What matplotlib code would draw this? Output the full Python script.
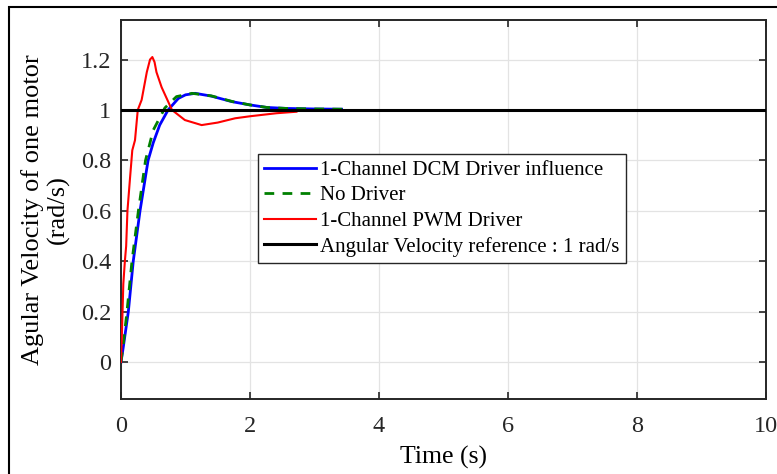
import matplotlib
matplotlib.use('Agg')
import matplotlib.pyplot as plt
from matplotlib.patches import Rectangle

plt.rcParams['font.family'] = ['Liberation Serif', 'DejaVu Serif']

# Канал DCM (синяя)
t_dcm = [0, 0.036, 0.114, 0.19, 0.295, 0.42, 0.5, 0.6, 0.73, 0.89, 1.0, 1.15,
         1.4, 1.72, 2.0, 2.26, 2.57, 3.0, 3.42]
v_dcm = [0, 0.06, 0.2, 0.4, 0.6, 0.8, 0.87, 0.94, 1.0, 1.046, 1.06, 1.066,
         1.055, 1.033, 1.02, 1.01, 1.006, 1.004, 1.003]

# Без драйвера (зелёная пунктирная)
t_nodrv = [0, 0.03, 0.093, 0.17, 0.27, 0.38, 0.5, 0.68, 0.86, 1.1, 1.4, 1.72,
           2.0, 2.26, 2.57, 3.0, 3.45]
v_nodrv = [0, 0.06, 0.2, 0.4, 0.6, 0.8, 0.92, 1.008, 1.053, 1.066, 1.056, 1.034,
           1.02, 1.01, 1.006, 1.004, 1.003]

# Канал PWM (красная)
t_pwm = [0, 0.015, 0.036, 0.06, 0.08, 0.10, 0.14, 0.175, 0.217, 0.26, 0.32, 0.40,
         0.45, 0.486, 0.52, 0.55, 0.63, 0.79, 0.99, 1.25, 1.5, 1.77, 2.0, 2.41, 2.72]
v_pwm = [0.0, 0.12, 0.31, 0.40, 0.46, 0.60, 0.73, 0.84, 0.88, 1.0, 1.04, 1.15,
         1.20, 1.21, 1.19, 1.15, 1.09, 1.0, 0.96, 0.94, 0.95, 0.967, 0.975, 0.987, 0.993]

# Опорная скорость
t_ref = [0, 10]
v_ref = [1, 1]

labels = ['1-Channel DCM Driver influence', 'No Driver',
          '1-Channel PWM Driver', 'Angular Velocity reference : 1 rad/s']

fig = plt.figure(figsize=(7.77, 4.74), dpi=100)
ax = fig.add_axes([121 / 777, 75 / 474, 645 / 777, 379 / 474])

ax.plot(t_dcm, v_dcm, color='#0000ff', lw=2, label=labels[0], zorder=2)
ax.plot(t_nodrv, v_nodrv, color='#008000', lw=2, ls=(0, (3.5, 3)), label=labels[1], zorder=3)
ax.plot(t_pwm, v_pwm, color='#ff0000', lw=1.5, label=labels[2], zorder=4)
ax.plot(t_ref, v_ref, color='black', lw=2.2, label=labels[3], zorder=5)

ax.set_xlim(0, 10)
ax.set_ylim(-0.147, 1.357)
ax.set_xticks([0, 2, 4, 6, 8, 10])
ax.set_yticks([0, 0.2, 0.4, 0.6, 0.8, 1, 1.2])
ax.set_yticklabels(['0', '0.2', '0.4', '0.6', '0.8', '1', '1.2'])
ax.grid(True, color='#e3e3e3', lw=0.9)
ax.set_axisbelow(True)
ax.tick_params(direction='in', top=True, right=True, length=5, width=1.2,
               labelsize=17.5, colors='#262626')
ax.tick_params(axis='x', pad=12)
ax.tick_params(axis='y', pad=7)
for s in ax.spines.values():
    s.set_linewidth(1.4)
    s.set_color('#262626')

ax.set_xlabel('Time (s)', fontsize=18.5, labelpad=7)
ax.set_ylabel('Agular Velocity of one motor\n(rad/s)', fontsize=19,
              linespacing=1.15, labelpad=8)

leg = ax.legend(loc='upper left', bbox_to_anchor=(0.212, 0.646), borderaxespad=0,
                fontsize=15, fancybox=False, framealpha=1, edgecolor='#262626',
                handlelength=2.5, handletextpad=0.2, labelspacing=0.28,
                borderpad=0.3)
leg.get_frame().set_linewidth(1.0)

# рамка вокруг рисунка
fig.patches.append(Rectangle((9 / 777, -0.1), 1.0, 1.1 - 7 / 474, transform=fig.transFigure,
                             fill=False, edgecolor='black', lw=1.5))

fig.savefig('out.png', dpi=100, facecolor='white')
